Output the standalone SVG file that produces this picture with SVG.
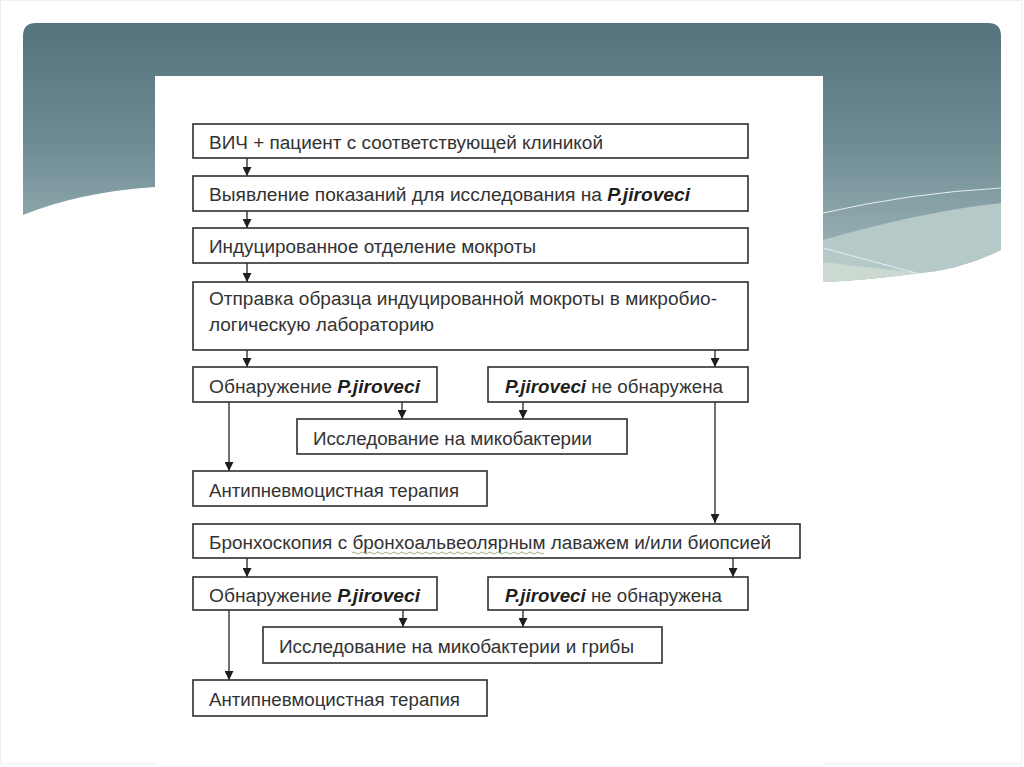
<svg xmlns="http://www.w3.org/2000/svg" width="1024" height="767" viewBox="0 0 1024 767">
<defs>
<linearGradient id="bg" x1="0" y1="23" x2="0" y2="285" gradientUnits="userSpaceOnUse">
<stop offset="0" stop-color="#54737c"/>
<stop offset="0.45" stop-color="#6d8b92"/>
<stop offset="1" stop-color="#a6bcc0"/>
</linearGradient>
<marker id="ah" viewBox="0 0 10 10" refX="10" refY="5" markerWidth="9" markerHeight="9" markerUnits="userSpaceOnUse" orient="auto">
<path d="M0,0 L10,5 L0,10 z" fill="#1e1e1e"/>
</marker>
<style>
.box{fill:#ffffff;stroke:#2e2e2e;stroke-width:1.6}
.t{font-family:"Liberation Sans",Arial,sans-serif;font-size:18px;fill:#333333}
.b{font-weight:bold;font-style:italic;fill:#1e1e1e}
.c{stroke:#222222;stroke-width:1.3;fill:none;marker-end:url(#ah)}
</style>
</defs>
<rect width="1024" height="767" fill="#ffffff"/>
<rect x="0.5" y="0.5" width="1021" height="763" fill="none" stroke="#efefef" stroke-width="1"/>
<!-- banner -->
<path d="M23,36 Q23,23 36,23 L988,23 Q1001,23 1001,36 L1001,250 Q960,270 920,273 Q870,280 823,282 L823,187 L155,187 Q80,192 23,215 Z" fill="url(#bg)"/>
<path d="M823,240 Q920,212 1001,203 L1001,250 Q960,270 920,273 Q870,280 823,282 Z" fill="#b6c9c9"/>
<path d="M823,262 Q870,268 920,273 Q870,280 823,282 Z" fill="#cbd9d1"/>
<path d="M823,213 Q910,193 1001,188" fill="none" stroke="#e6eeee" stroke-width="1"/>
<path d="M823,248 Q875,262 920,274" fill="none" stroke="#e6eeee" stroke-width="1"/>
<rect x="155" y="76" width="668" height="691" fill="#ffffff"/>

<g id="connectors">
<line class="c" x1="247" y1="158" x2="247" y2="176"/>
<line class="c" x1="247" y1="211" x2="247" y2="228"/>
<line class="c" x1="247" y1="263" x2="247" y2="282"/>
<line class="c" x1="247" y1="350" x2="247" y2="367"/>
<line class="c" x1="715" y1="350" x2="715" y2="367"/>
<line class="c" x1="402" y1="402" x2="402" y2="419"/>
<line class="c" x1="523" y1="402" x2="523" y2="419"/>
<line class="c" x1="229" y1="402" x2="229" y2="471"/>
<line class="c" x1="715" y1="402" x2="715" y2="523"/>
<line class="c" x1="247" y1="558" x2="247" y2="577"/>
<line class="c" x1="733" y1="558" x2="733" y2="577"/>
<line class="c" x1="403" y1="610" x2="403" y2="627"/>
<line class="c" x1="523" y1="610" x2="523" y2="627"/>
<line class="c" x1="229" y1="610" x2="229" y2="680"/>
</g>

<g id="n1"><rect class="box" x="193" y="124" width="555" height="34"/>
<text class="t" x="209" y="149" textLength="394" lengthAdjust="spacingAndGlyphs">ВИЧ + пациент с соответствующей клиникой</text></g>
<g id="n2"><rect class="box" x="193" y="176" width="555" height="35"/>
<text class="t" x="209" y="201" textLength="481" lengthAdjust="spacingAndGlyphs">Выявление показаний для исследования на <tspan class="b">P.jiroveci</tspan></text></g>
<g id="n3"><rect class="box" x="193" y="228" width="555" height="35"/>
<text class="t" x="209" y="253" textLength="327" lengthAdjust="spacingAndGlyphs">Индуцированное отделение мокроты</text></g>
<g id="n4"><rect class="box" x="193" y="282" width="555" height="68"/>
<text class="t" x="209" y="305" textLength="508" lengthAdjust="spacingAndGlyphs">Отправка образца индуцированной мокроты в микробио-</text>
<text class="t" x="209" y="331" textLength="225" lengthAdjust="spacingAndGlyphs">логическую лабораторию</text></g>
<g id="n5"><rect class="box" x="193" y="367" width="244" height="35"/>
<text class="t" x="209" y="393" textLength="211" lengthAdjust="spacingAndGlyphs">Обнаружение <tspan class="b">P.jiroveci</tspan></text></g>
<g id="n6"><rect class="box" x="488" y="367" width="260" height="35"/>
<text class="t" x="505" y="393" textLength="218" lengthAdjust="spacingAndGlyphs"><tspan class="b">P.jiroveci</tspan> не обнаружена</text></g>
<g id="n7"><rect class="box" x="297" y="419" width="330" height="35"/>
<text class="t" x="313" y="445" textLength="279" lengthAdjust="spacingAndGlyphs">Исследование на микобактерии</text></g>
<g id="n8"><rect class="box" x="193" y="471" width="294" height="35"/>
<text class="t" x="209" y="497" textLength="250" lengthAdjust="spacingAndGlyphs">Антипневмоцистная терапия</text></g>
<g id="n9"><rect class="box" x="193" y="524" width="607" height="34"/>
<text class="t" x="209" y="549" textLength="562" lengthAdjust="spacingAndGlyphs">Бронхоскопия с бронхоальвеолярным лаважем и/или биопсией</text>
<path d="M352,553 q2,-2 4,0 t4,0 t4,0 t4,0 t4,0 t4,0 t4,0 t4,0 t4,0 t4,0 t4,0 t4,0 t4,0 t4,0 t4,0 t4,0 t4,0 t4,0 t4,0 t4,0 t4,0 t4,0 t4,0 t4,0 t4,0 t4,0 t4,0 t4,0 t4,0 t4,0 t4,0 t4,0 t4,0 t4,0 t4,0 t4,0 t4,0 t4,0 t4,0 t4,0 t4,0 t4,0 t4,0 t4,0 t4,0 t4,0 t4,0 t4,0" fill="none" stroke="#8fa870" stroke-width="0.9"/></g>
<g id="n10"><rect class="box" x="193" y="577" width="244" height="33"/>
<text class="t" x="209" y="602" textLength="211" lengthAdjust="spacingAndGlyphs">Обнаружение <tspan class="b">P.jiroveci</tspan></text></g>
<g id="n11"><rect class="box" x="488" y="577" width="260" height="33"/>
<text class="t" x="505" y="602" textLength="217" lengthAdjust="spacingAndGlyphs"><tspan class="b">P.jiroveci</tspan> не обнаружена</text></g>
<g id="n12"><rect class="box" x="263" y="627" width="399" height="36"/>
<text class="t" x="279" y="653" textLength="355" lengthAdjust="spacingAndGlyphs">Исследование на микобактерии и грибы</text></g>
<g id="n13"><rect class="box" x="193" y="680" width="294" height="36"/>
<text class="t" x="209" y="706" textLength="251" lengthAdjust="spacingAndGlyphs">Антипневмоцистная терапия</text></g>
</svg>
